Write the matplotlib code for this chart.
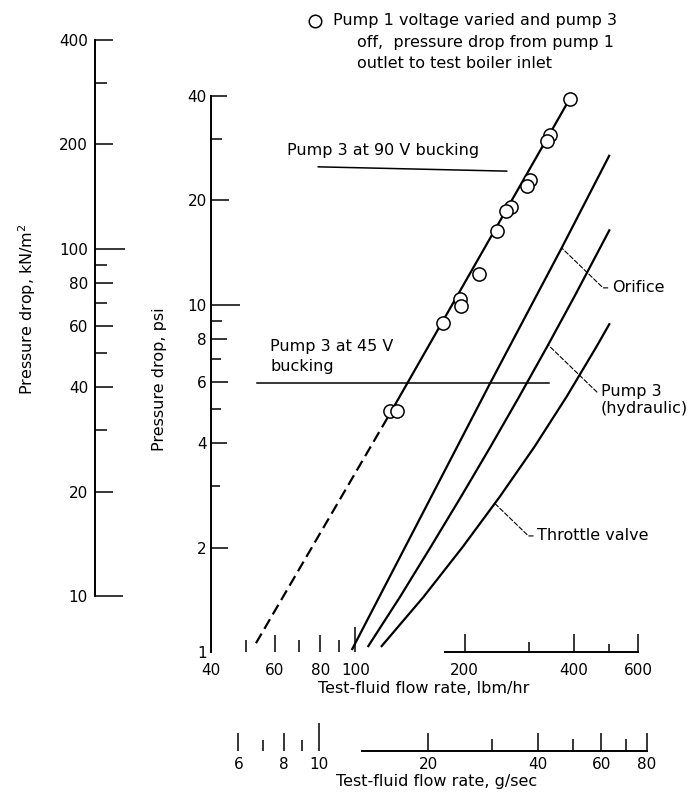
import matplotlib.pyplot as plt
from matplotlib.lines import Line2D
from matplotlib.ticker import FixedLocator, FixedFormatter, NullFormatter

# pump 1 voltage varied, pump 3 off (lbm/hr, psi)
pump1_flow = [389, 344, 337, 303, 297, 268, 260, 245, 219, 194, 195, 174, 124.5, 130]
pump1_dp = [39.2, 30.8, 29.7, 22.9, 22.0, 19.1, 18.7, 16.3, 12.3, 10.4, 9.9, 8.9, 4.96, 4.96]

# faired line through the pump 1 points, dashed where extrapolated
fit_flow_solid = [125, 389]
fit_dp_solid = [4.9, 39.2]
fit_flow_dashed = [53.2, 125]
fit_dp_dashed = [1.06, 4.9]

orifice_flow = [98, 235, 370, 500]
orifice_dp = [1.02, 5.95, 14.6, 26.9]

pump3_flow = [108.5, 132.6, 161.3, 195.3, 235.4, 282.5, 337.3, 401.0, 500.4]
pump3_dp = [1.04, 1.44, 2.01, 2.80, 3.90, 5.44, 7.58, 10.57, 16.4]

throttle_flow = [118.1, 153.9, 197.6, 249.7, 311.2, 381.7, 461.3, 500.4]
throttle_dp = [1.04, 1.44, 2.01, 2.80, 3.90, 5.44, 7.58, 8.8]

bucking90_flow = [79, 261]
bucking90_dp = [25.0, 24.3]
bucking45_flow = [53.5, 342]
bucking45_dp = [5.97, 5.97]

# axis ticks
flow_major = [40, 60, 80, 100, 200, 400, 600]
flow_minor = [50, 70, 90, 300, 500]
psi_major = [1, 2, 4, 6, 8, 10, 20, 40]
psi_minor = [3, 5, 7, 9, 30]
kpa_major = [10, 20, 40, 60, 80, 100, 200, 400]
kpa_minor = [30, 50, 70, 90, 300]
gs_major = [6, 8, 10, 20, 40, 60, 80]
gs_minor = [7, 9, 30, 50, 70]

LBM_PER_HR_PER_G_PER_S = 7.9366

plt.rcParams['font.family'] = 'DejaVu Sans'

W, H = 692, 797
fig = plt.figure(figsize=(W / 100, H / 100), dpi=100)
PX = 1 / 1.389  # pixels -> points


def fxy(px, py):
    return px / W, 1 - py / H


def set_lengths(axis, major, minor):
    for t, n in zip(axis.get_major_ticks(), major):
        t.tick1line.set_markersize(n * PX)
    for t, n in zip(axis.get_minor_ticks(), minor):
        t.tick1line.set_markersize(n * PX)


def fixed_ticks(axis, major, minor):
    axis.set_major_locator(FixedLocator(major))
    axis.set_major_formatter(FixedFormatter([str(v) for v in major]))
    axis.set_minor_locator(FixedLocator(minor))
    axis.set_minor_formatter(NullFormatter())


# -----------------------------------------------------------------------------
# main plot: psi vs lbm/hr

ax = fig.add_axes([211 / W, 1 - 652 / H, 451.2 / W, 556 / H])
ax.patch.set_visible(False)
ax.set_xscale('log')
ax.set_yscale('log')
ax.set_xlim(40, 700)
ax.set_ylim(1, 40)

ax.spines[['top', 'right']].set_visible(False)
ax.spines['left'].set_bounds(1, 40)
ax.spines['bottom'].set_bounds(176, 600)
for s in ('left', 'bottom'):
    ax.spines[s].set_linewidth(1.4)

fixed_ticks(ax.xaxis, flow_major, flow_minor)
fixed_ticks(ax.yaxis, psi_major, psi_minor)
ax.tick_params(which='both', direction='in', width=1.1, top=False, right=False,
               labelsize=11)
ax.tick_params(axis='x', which='both', pad=8)
ax.tick_params(axis='y', which='both', pad=3)
set_lengths(ax.xaxis, [0, 17, 17, 25, 18, 18, 18], [12, 12, 12, 10, 8])
set_lengths(ax.yaxis, [0, 17, 16, 17, 16, 29, 18, 16], [9, 10, 10, 11, 11])

ax.set_xlabel('Test-fluid flow rate, lbm/hr', fontsize=11.5)
ax.xaxis.set_label_coords((424 - 211) / 451.2, (652 - 681) / 556)
ax.set_ylabel('Pressure drop, psi', fontsize=11.5)
ax.yaxis.set_label_coords((167 - 211) / 451.2, (652 - 379) / 556)

line_kw = dict(color='k', lw=1.6, clip_on=False)
ax.plot(fit_flow_solid, fit_dp_solid, **line_kw)
ax.plot(fit_flow_dashed, fit_dp_dashed, dashes=(5, 2.5), **line_kw)
ax.plot(orifice_flow, orifice_dp, **line_kw)
ax.plot(pump3_flow, pump3_dp, **line_kw)
ax.plot(throttle_flow, throttle_dp, **line_kw)
ax.plot(bucking90_flow, bucking90_dp, color='k', lw=1.1, clip_on=False)
ax.plot(bucking45_flow, bucking45_dp, color='k', lw=1.1, clip_on=False)

ax.plot(pump1_flow, pump1_dp, 'o', ms=9.5, mfc='white', mec='k', mew=1.1,
        zorder=3, clip_on=False)

# dashed leaders: diagonal off the curve, short horizontal stub into the text
leader = dict(arrowstyle='-', lw=0.8, ls=(0, (4, 2)), shrinkA=1, shrinkB=0,
              relpos=(0, 0.5), connectionstyle='angle,angleA=0,angleB=-44,rad=0')
ax.annotate('Orifice', xy=(370, 14.6), xytext=(509, 11.2), fontsize=11.5,
            ha='left', va='center', arrowprops=leader, annotation_clip=False)
ax.annotate('Pump 3\n(hydraulic)', xy=(339.5, 7.67), xytext=(475, 5.32),
            fontsize=11.5, ha='left', va='center', linespacing=1.15,
            arrowprops=dict(leader, relpos=(0, 0.75)), annotation_clip=False)
ax.annotate('Throttle valve', xy=(242, 2.68), xytext=(317, 2.16),
            fontsize=11.5, ha='left', va='center', arrowprops=leader,
            annotation_clip=False)

# -----------------------------------------------------------------------------
# g/sec scale under the lbm/hr scale

sec = ax.secondary_xaxis(-(751 - 652) / 556,
                         functions=(lambda x: x / LBM_PER_HR_PER_G_PER_S,
                                    lambda x: x * LBM_PER_HR_PER_G_PER_S))
fixed_ticks(sec.xaxis, gs_major, gs_minor)
sec.spines['bottom'].set_bounds(13.1, 80)
sec.spines['bottom'].set_linewidth(1.4)
sec.tick_params(which='both', direction='in', width=1.1, labelsize=11, pad=4)
set_lengths(sec.xaxis, [18, 18, 28, 18, 18, 18, 18], [11, 11, 12, 12, 12])
sec.set_xlabel('Test-fluid flow rate, g/sec', fontsize=11.5, labelpad=2)

# -----------------------------------------------------------------------------
# kN/m^2 scale at the far left

kax = fig.add_axes([95 / W, 1 - 596 / H, 30 / W, 556 / H])
kax.patch.set_visible(False)
kax.set_yscale('log')
kax.set_ylim(10, 400)
kax.spines[['top', 'right', 'bottom']].set_visible(False)
kax.spines['left'].set_linewidth(1.4)
kax.xaxis.set_visible(False)
fixed_ticks(kax.yaxis, kpa_major, kpa_minor)
kax.tick_params(which='both', direction='in', width=1.1, labelsize=11, pad=5)
set_lengths(kax.yaxis, [28, 18, 18, 18, 18, 30, 18, 18], [12, 12, 12, 12, 12])
kax.set_ylabel('Pressure drop, kN/m$^2$', fontsize=11.5)
kax.yaxis.set_label_coords((38 - 95) / 30, 0.515)

# -----------------------------------------------------------------------------
# labels and key

fig.text(*fxy(287, 150), 'Pump 3 at 90 V bucking', fontsize=11.5, va='center')
fig.text(*fxy(270, 346), 'Pump 3 at 45 V', fontsize=11.5, va='center')
fig.text(*fxy(270, 367), 'bucking', fontsize=11.5, va='center')

fig.add_artist(Line2D([fxy(315, 21)[0]], [fxy(315, 21)[1]], marker='o',
                      ms=9, mfc='white', mec='k', mew=1.1,
                      transform=fig.transFigure))
fig.text(*fxy(333, 21), 'Pump 1 voltage varied and pump 3', fontsize=11.5,
         va='center')
fig.text(*fxy(357, 43), 'off,  pressure drop from pump 1', fontsize=11.5,
         va='center')
fig.text(*fxy(357, 64), 'outlet to test boiler inlet', fontsize=11.5,
         va='center')

fig.savefig('out.png', dpi=100)
